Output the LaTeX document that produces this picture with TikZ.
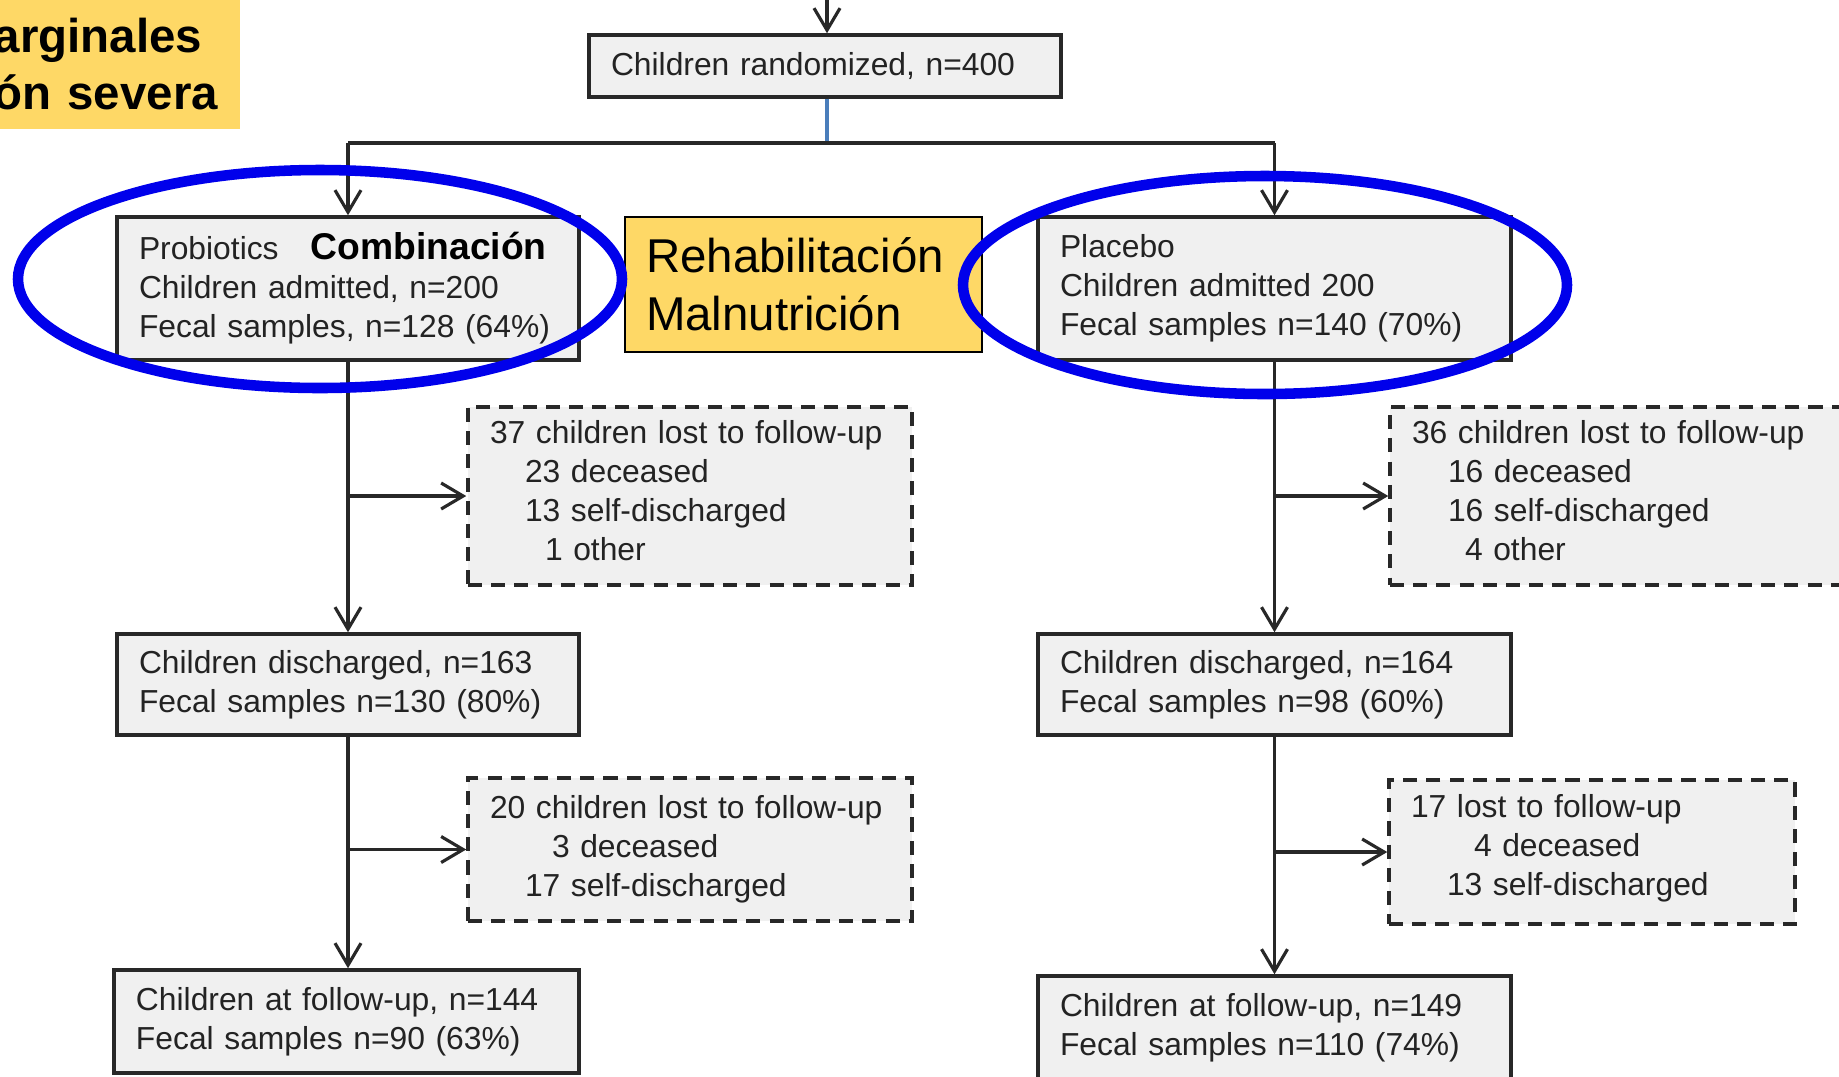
\documentclass[tikz,border=0pt]{standalone}
\usepackage{fontspec}
\setmainfont{Liberation Sans}
\usetikzlibrary{arrows.meta,positioning}

\definecolor{boxgray}{RGB}{240,240,240}
\definecolor{edgegray}{RGB}{40,40,40}
\definecolor{textgray}{RGB}{35,35,35}
\definecolor{notey}{RGB}{254,216,102}
\definecolor{ringblue}{RGB}{0,0,235}
\definecolor{linkblue}{RGB}{74,126,187}

\begin{document}
\begin{tikzpicture}[
  every node/.style={font=\fontsize{9.05}{11.1}\selectfont, text=textgray},
  box/.style={draw=edgegray, line width=1pt, fill=boxgray, align=left, inner xsep=0.22cm, inner ysep=0pt, text width=#1},
  lostbox/.style={box=#1, dash pattern=on 4pt off 2.6pt},
  notebox/.style={fill=notey, align=left, text=black, font=\fontsize{13.5}{16.6}\selectfont},
  arr/.style={draw=edgegray, line width=0.9pt, -{Straight Barb[length=2.2mm,width=2.6mm]}},
  link/.style={draw=edgegray, line width=0.9pt},
  ring/.style={draw=ringblue, line width=3pt}
]
  \useasboundingbox (0,0) rectangle (18.39,-10.76);
  \clip (0,0) rectangle (18.39,-10.76);

  \node[notebox, anchor=west, text width=2.46cm, inner xsep=0pt, minimum height=1.29cm,
    font=\fontsize{13.5}{16.2}\selectfont\bfseries] (corner) at (-0.07,-0.645)
    {arginales\\ón severa};

  \node[box=4.28cm, minimum height=0.62cm] (rand) at (8.25,-0.66)
    {Children randomized, n=400};

  \node[box=4.18cm, minimum height=1.43cm] (prob) at (3.48,-2.885)
    {Probiotics\hspace{0.32cm}{\color{black}\fontsize{10.6}{11.1}\selectfont\bfseries Combinación}\\
     Children admitted, n=200\\Fecal samples, n=128 (64\%)};
  \node[notebox, draw=black, line width=0.6pt, text width=3.15cm, inner xsep=0.21cm,
    minimum height=1.35cm] (rehab) at (8.035,-2.845)
    {Rehabilitación\\Malnutrición};
  \node[box=4.29cm, minimum height=1.43cm] (plac) at (12.745,-2.885)
    {Placebo\\Children admitted 200\\Fecal samples n=140 (70\%)};

  \node[lostbox=4.0cm, minimum height=1.78cm] (lost1) at (6.90,-4.96)
    {37 children lost to follow-up\\\hspace*{0.35cm}23 deceased\\
     \hspace*{0.35cm}13 self-discharged\\\hspace*{0.55cm}1 other\vspace{3pt}};
  \node[lostbox=4.66cm, minimum height=1.78cm] (lost2) at (16.45,-4.96)
    {36 children lost to follow-up\\\hspace*{0.36cm}16 deceased\\
     \hspace*{0.36cm}16 self-discharged\\\hspace*{0.53cm}4 other\vspace{3pt}};

  \node[box=4.18cm, minimum height=1.01cm] (dis1) at (3.48,-6.845)
    {Children discharged, n=163\\Fecal samples n=130 (80\%)};
  \node[box=4.29cm, minimum height=1.01cm] (dis2) at (12.745,-6.845)
    {Children discharged, n=164\\Fecal samples n=98 (60\%)};

  \node[lostbox=4.0cm, minimum height=1.43cm] (lost3) at (6.90,-8.495)
    {20 children lost to follow-up\\\hspace*{0.62cm}3 deceased\\
     \hspace*{0.35cm}17 self-discharged};
  \node[lostbox=3.62cm, minimum height=1.44cm] (lost4) at (15.92,-8.52)
    {17 lost to follow-up\\\hspace*{0.63cm}4 deceased\\
     \hspace*{0.36cm}13 self-discharged\vspace{2pt}};

  \node[box=4.21cm, minimum height=1.03cm] (fu1) at (3.465,-10.215)
    {Children at follow-up, n=144\\Fecal samples n=90 (63\%)};
  \node[box=4.29cm, minimum height=1.04cm] (fu2) at (12.745,-10.28)
    {Children at follow-up, n=149\\Fecal samples n=110 (74\%)};

  \coordinate (in) at (8.27,0);
  \coordinate (split) at (8.27,-1.43);
  \draw[arr] (in) -- (in |- rand.north);
  \draw[link, draw=linkblue] (split |- rand.south) -- (split);
  \draw[link] (prob.north |- split) -- (plac.north |- split);
  \draw[arr] (prob.north |- split) -- (prob.north);
  \draw[arr] (plac.north |- split) -- (plac.north);

  \draw[arr] (prob.south) -- (dis1.north);
  \draw[arr] (lost1.west -| prob.south) -- (lost1.west);
  \draw[arr] (dis1.south) -- (dis1.south |- fu1.north);
  \draw[arr] (lost3.west -| dis1.south) -- (lost3.west);

  \draw[arr] (plac.south) -- (dis2.north);
  \draw[arr] (lost2.west -| plac.south) -- (lost2.west);
  \draw[arr] (dis2.south) -- (fu2.north);
  \draw[arr] (lost4.west -| dis2.south) -- (lost4.west);

  \draw[ring] (3.20,-2.79) ellipse [x radius=3.02cm, y radius=1.09cm];
  \draw[ring] (12.65,-2.85) ellipse [x radius=3.02cm, y radius=1.09cm];
\end{tikzpicture}
\end{document}
